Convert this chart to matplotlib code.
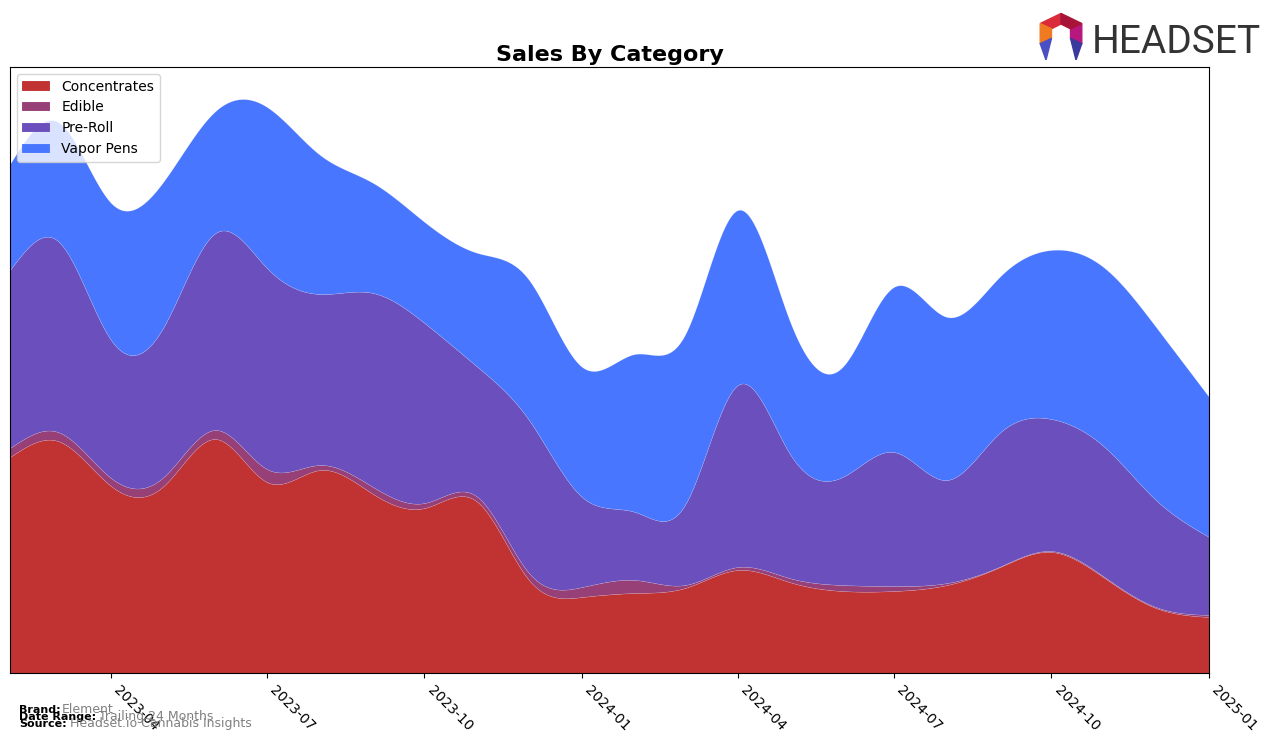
import matplotlib
matplotlib.use("Agg")
import matplotlib.pyplot as plt
import matplotlib.dates as mdates
from matplotlib import font_manager
from matplotlib.patches import Polygon
import numpy as np
import pandas as pd

# monthly sales (relative units)
months = pd.date_range("2023-02-01", "2025-01-01", freq="MS")
concentrates = [216, 232, 187, 186, 234, 191, 203, 179, 165, 171, 93, 76,
                80, 85, 103, 91, 82, 82, 88, 106, 121, 95, 65, 56]
edible = [9, 9, 8, 9, 9, 13, 5, 7, 5, 5, 7, 10,
          13, 3, 3, 4, 6, 5, 2, 0.5, 1, 1, 1, 2]
pre_roll = [178, 191, 138, 149, 197, 201, 171, 194, 180, 130, 153, 90,
            68, 80, 182, 125, 108, 134, 103, 134, 132, 130, 107, 78]
vapor_pens = [106, 119, 137, 146, 122, 161, 139, 110, 101, 114, 140, 130,
              158, 170, 175, 133, 110, 165, 163, 156, 169, 179, 173, 140]

labels = ["Concentrates", "Edible", "Pre-Roll", "Vapor Pens"]
colors = ["#c13333", "#973f77", "#6a4fbd", "#4876ff"]


def smooth(x, y, xs):
    # natural cubic spline through the monthly points
    x = np.asarray(x, float)
    y = np.asarray(y, float)
    n = len(x)
    h = np.diff(x)
    A = np.zeros((n, n))
    b = np.zeros(n)
    A[0, 0] = 1
    A[-1, -1] = 1
    for i in range(1, n - 1):
        A[i, i - 1] = h[i - 1]
        A[i, i] = 2 * (h[i - 1] + h[i])
        A[i, i + 1] = h[i]
        b[i] = 3 * ((y[i + 1] - y[i]) / h[i] - (y[i] - y[i - 1]) / h[i - 1])
    c = np.linalg.solve(A, b)
    bc = (y[1:] - y[:-1]) / h - h * (2 * c[:-1] + c[1:]) / 3
    d = (c[1:] - c[:-1]) / (3 * h)
    idx = np.clip(np.searchsorted(x, xs) - 1, 0, n - 2)
    dx = xs - x[idx]
    return y[idx] + bc[idx] * dx + c[idx] * dx ** 2 + d[idx] * dx ** 3


xn = mdates.date2num(months)
xs = np.linspace(xn[0], xn[-1], 600)
series = [np.clip(smooth(xn, s, xs), 0, None)
          for s in [concentrates, edible, pre_roll, vapor_pens]]

fig = plt.figure(figsize=(12.76, 7.43), dpi=100)
ax = fig.add_axes([0.0078, 0.0942, 0.9397, 0.8156])
ax.stackplot(xs, *series, labels=labels, colors=colors, linewidth=0.3,
             edgecolor="#ffffff40")
ax.set_xlim(xn[0], xn[-1])
ax.set_ylim(0, 606)
ax.set_yticks([])
ax.set_xticks(mdates.date2num(pd.date_range("2023-04-01", "2025-01-01", freq="3MS")))
ax.xaxis.set_major_formatter(mdates.DateFormatter("%Y-%m"))
plt.setp(ax.get_xticklabels(), rotation=-45, ha="left", fontsize=10)
ax.set_title("Sales By Category", fontsize=16, fontweight="bold", pad=4)
ax.legend(loc="upper left", fontsize=10)

# footer
fig.text(0.015, 0.040, "Brand:", fontsize=8, fontweight="bold")
fig.text(0.0485, 0.040, "Element", fontsize=9, color="gray")
fig.text(0.015, 0.031, "Date Range:", fontsize=8, fontweight="bold")
fig.text(0.0775, 0.031, "Trailing 24 Months", fontsize=9, color="gray")
fig.text(0.015, 0.022, "Source:", fontsize=8, fontweight="bold")
fig.text(0.055, 0.022, "Headset.io Cannabis Insights", fontsize=9, color="gray")

# logo
try:
    font_manager.findfont("Liberation Sans Narrow", fallback_to_default=False)
    logo_font, logo_size = "Liberation Sans Narrow", 33
except ValueError:
    logo_font, logo_size = "Roboto", 28
fig.text(1092 / 1276, 1 - 53 / 743, "HEADSET", fontsize=logo_size,
         color="#333333", family=logo_font)
lax = fig.add_axes([1036 / 1276, 1 - 60 / 743, 50 / 1276, 48 / 743])
lax.set_xlim(0, 1)
lax.set_ylim(0, 1)
lax.axis("off")
ang = np.deg2rad([90, 150, 210, 270, 330, 30])
outer = np.c_[0.5 + 0.48 * np.cos(ang), 0.55 + 0.42 * np.sin(ang)]
inner = np.c_[0.5 + 0.22 * np.cos(ang), 0.55 + 0.2 * np.sin(ang)]
seg_cols = ["#d92b3a", "#f07a22", None, None, "#b8177d", "#a81438"]
for i, col in enumerate(seg_cols):
    if col is None:
        continue
    j = (i + 1) % 6
    lax.add_patch(Polygon([outer[i], outer[j], inner[j], inner[i]], color=col))
lax.add_patch(Polygon([outer[2], inner[2], [0.2, 0.0]], color="#4b4fc4"))
lax.add_patch(Polygon([outer[4], inner[4], [0.8, 0.0]], color="#3a3a9e"))

fig.savefig("out.png", dpi=100)
